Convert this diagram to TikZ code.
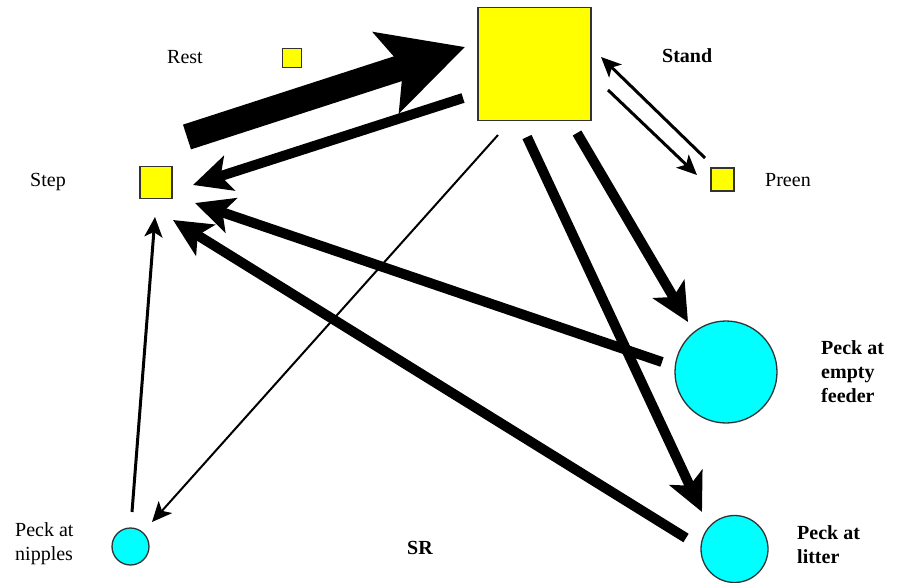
\documentclass[tikz,border=0pt]{standalone}
\usepackage{fontspec}
\setmainfont{Liberation Serif}
\usetikzlibrary{arrows.meta}

\definecolor{stateyellow}{RGB}{255,255,0}
\definecolor{peckcyan}{RGB}{0,255,255}

\begin{document}
\begin{tikzpicture}[
    x=1pt, y=-1pt,
    state/.style={draw=black!80, line width=1.3pt, fill=stateyellow, inner sep=0pt},
    peck/.style={circle, draw=black!80, line width=1.3pt, fill=peckcyan, inner sep=0pt},
    tag/.style={inner sep=0pt, anchor=west, align=left, font=\fontsize{20}{24}\selectfont},
    heavy/.style={line width=26pt, -{Stealth[length=82pt, width=83pt, inset=17pt]}},
    strong/.style={line width=10pt, -{Stealth[length=38pt, width=36pt, inset=9pt]}},
    weak/.style={line width=3pt, -{Stealth[length=20pt, width=18pt, inset=5pt]}},
    faint/.style={line width=2pt, -{Stealth[length=20pt, width=18pt, inset=5pt]}},
]

\useasboundingbox (0,0) rectangle (904,583);

% =============================================================================
% States
% =============================================================================
\node[state, minimum size=113pt] (stand) at (534.5,64) {};
\node[state, minimum size=19pt] (rest) at (292,58) {};
\node[state, minimum size=32pt] (step) at (156,182.5) {};
\node[state, minimum size=23pt] (preen) at (722.5,179.5) {};

\node[peck, minimum size=102pt] (feeder) at (726,372) {};
\node[peck, minimum size=67pt] (litter) at (734.5,549) {};
\node[peck, minimum size=37pt] (nipples) at (130.5,546.5) {};

% --- Labels ---
\node[tag] (restlab) at (167,57) {Rest};
\node[tag, font=\fontsize{20}{24}\selectfont\bfseries] (standlab) at (662,56) {Stand};
\node[tag] (preenlab) at (765,180) {Preen};
\node[tag] (steplab) at (30,182) {Step};
\node[tag] (nippleslab) at (15,543.5) {Peck at\\nipples};
\node[tag, font=\fontsize{20}{24}\selectfont\bfseries] (feederlab) at (821,372) {Peck at\\empty\\feeder};
\node[tag, font=\fontsize{20}{24}\selectfont\bfseries] (litterlab) at (797,545) {Peck at\\litter};
\node[tag, anchor=center, font=\fontsize{20}{24}\selectfont\bfseries] (sr) at (420,548) {SR};

% =============================================================================
% Transitions
% =============================================================================
% Step <-> Stand
\draw[heavy] ([shift={(31,-45.5)}]step.center) -- ([shift={(-69.5,-17)}]stand.center);
\draw[strong] ([shift={(-71.5,34)}]stand.center) -- ([shift={(37,2.5)}]step.center);

% Stand <-> Preen
\draw[weak] ([shift={(73.5,26)}]stand.center) -- ([shift={(-25.5,-4.5)}]preen.center);
\draw[weak] ([shift={(-17.5,-21.5)}]preen.center) -- ([shift={(66.5,-7)}]stand.center);

% Stand -> pecking
\draw[faint] ([shift={(-36.5,71)}]stand.center) -- ([shift={(21.5,-24.5)}]nipples.center);
\draw[strong] ([shift={(-7.5,73)}]stand.center) -- ([shift={(-32.5,-37)}]litter.center);
\draw[strong] ([shift={(42.5,69)}]stand.center) -- ([shift={(-38,-50)}]feeder.center);

% pecking -> Step
\draw[strong] ([shift={(-64,-10)}]feeder.center) -- ([shift={(39,20.5)}]step.center);
\draw[strong] ([shift={(-48.5,-11)}]litter.center) -- ([shift={(17,37.5)}]step.center);
\draw[weak] ([shift={(1.5,-34.5)}]nipples.center) -- ([shift={(-1,34.5)}]step.center);

\end{tikzpicture}
\end{document}
